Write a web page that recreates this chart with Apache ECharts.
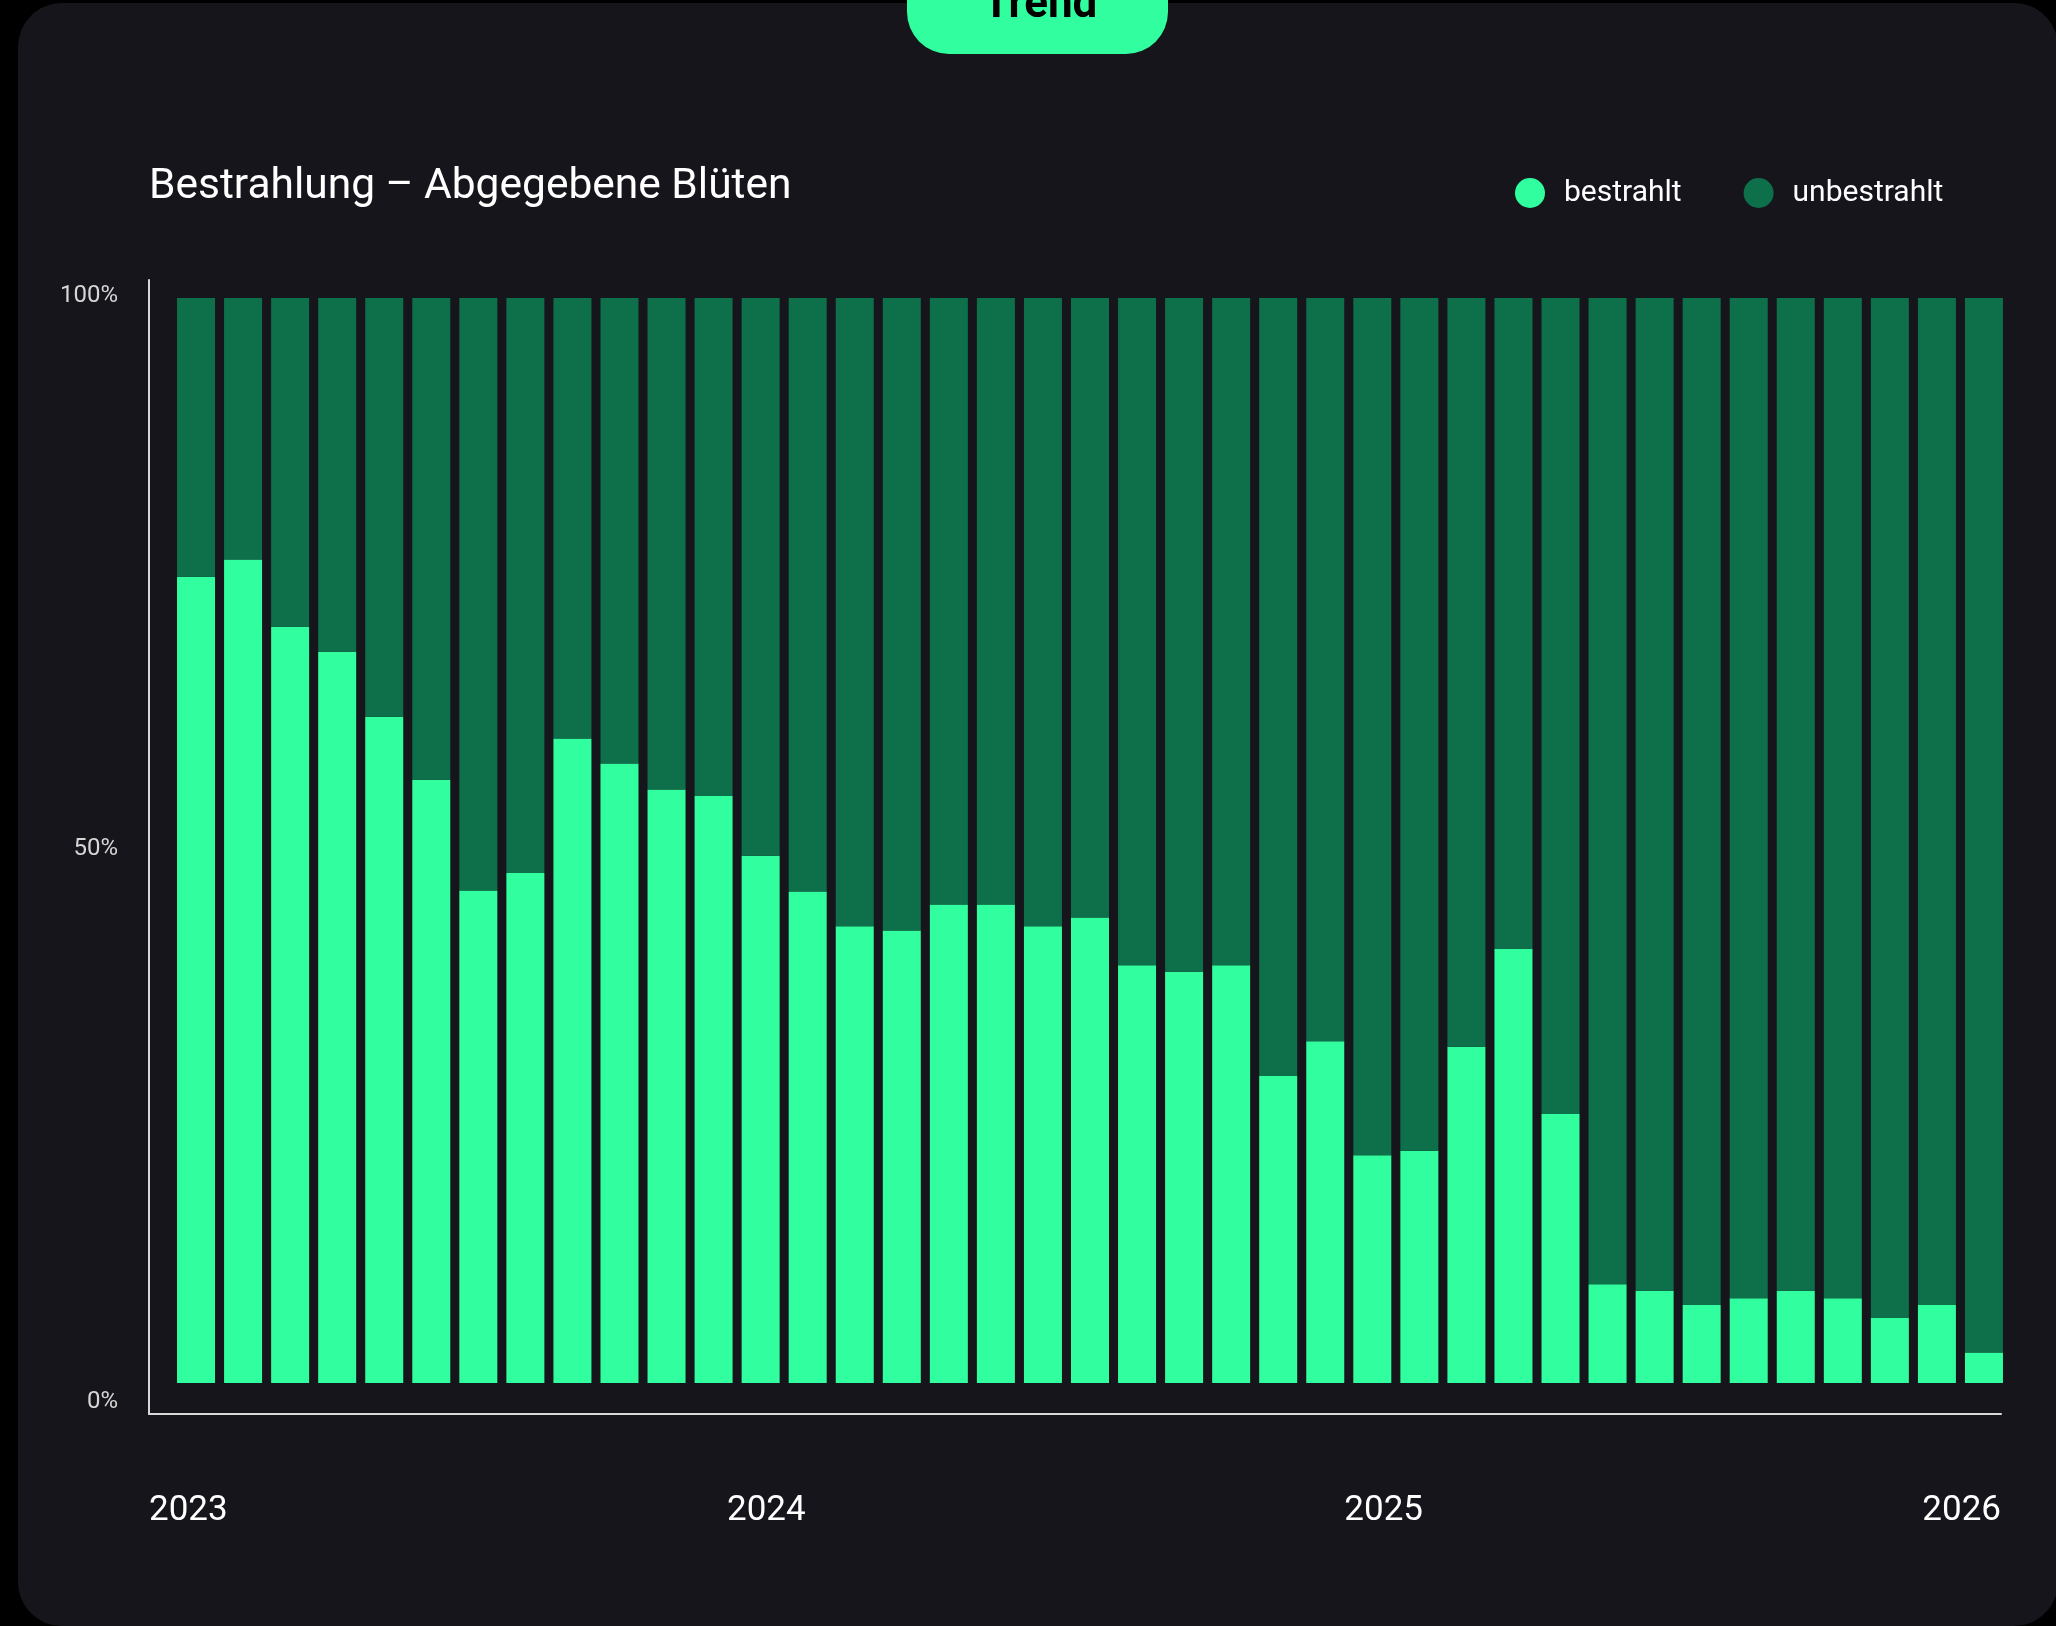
<!DOCTYPE html>
<html>
<head>
<meta charset="utf-8">
<title>Bestrahlung – Abgegebene Blüten</title>
<script src="https://cdn.jsdelivr.net/npm/echarts@6/dist/echarts.min.js"></script>
<style>
  html, body { margin: 0; padding: 0; background: #000; }
  #chart { width: 2056px; height: 1626px; }
</style>
</head>
<body>
<div id="chart"></div>
<script>
// monthly categories Jan 2023 .. Mar 2026
const months = [
  '2023-01', '2023-02', '2023-03', '2023-04', '2023-05', '2023-06',
  '2023-07', '2023-08', '2023-09', '2023-10', '2023-11', '2023-12',
  '2024-01', '2024-02', '2024-03', '2024-04', '2024-05', '2024-06',
  '2024-07', '2024-08', '2024-09', '2024-10', '2024-11', '2024-12',
  '2025-01', '2025-02', '2025-03', '2025-04', '2025-05', '2025-06',
  '2025-07', '2025-08', '2025-09', '2025-10', '2025-11', '2025-12',
  '2026-01', '2026-02', '2026-03'
]

// share in %
const bestrahlt = [
  74.3, 75.9, 69.7, 67.4, 61.4, 55.6, 45.4, 47.0, 59.4, 57.1, 54.7, 54.1,
  48.6, 45.3, 42.1, 41.7, 44.1, 44.1, 42.1, 42.9, 38.5, 37.9, 38.5, 28.3,
  31.5, 21.0, 21.4, 31.0, 40.0, 24.8, 9.1, 8.5, 7.2, 7.8, 8.5, 7.8,
  6.0, 7.2, 2.8
]
const unbestrahlt = [
  25.7, 24.1, 30.3, 32.6, 38.6, 44.4, 54.6, 53.0, 40.6, 42.9, 45.3, 45.9,
  51.4, 54.7, 57.9, 58.3, 55.9, 55.9, 57.9, 57.1, 61.5, 62.1, 61.5, 71.7,
  68.5, 79.0, 78.6, 69.0, 60.0, 75.2, 90.9, 91.5, 92.8, 92.2, 91.5, 92.2,
  94.0, 92.8, 97.2
]

const yearLabels = ['2023', '2024', '2025', '2026']
const percentTicks = [0, 50, 100]

const COLOR_ON = '#31FF9F'
const COLOR_OFF = '#0E704A'
const AXIS = '#d8d8d8'

const chart = echarts.init(document.getElementById('chart'))

const option = {
  backgroundColor: '#000',
  animation: false,
  graphic: [
    {
      type: 'rect',
      z: -10,
      shape: { x: 18, y: 3, width: 2040, height: 1623, r: 44 },
      style: { fill: '#15151B' }
    },
    {
      type: 'rect',
      z: 10,
      shape: { x: 907, y: -70, width: 261, height: 124, r: 42 },
      style: { fill: COLOR_ON }
    },
    {
      type: 'text',
      z: 11,
      x: 1040,
      y: 6,
      style: {
        text: 'Trend',
        fill: '#000',
        font: 'bold 44px Roboto',
        align: 'center',
        verticalAlign: 'middle'
      }
    },
    {
      type: 'text',
      x: 149,
      y: 187,
      style: {
        text: 'Bestrahlung – Abgegebene Blüten',
        fill: '#ffffff',
        font: '42.5px Roboto',
        verticalAlign: 'middle'
      }
    }
  ],
  legend: {
    left: 1510,
    top: 173,
    itemWidth: 30,
    itemHeight: 30,
    itemGap: 62,
    icon: 'circle',
    data: ['bestrahlt', 'unbestrahlt'],
    textStyle: {
      color: '#ffffff',
      fontSize: 30,
      fontFamily: 'Roboto',
      padding: [0, 0, 0, 14]
    }
  },
  grid: [
    // bars
    { left: 172.5, right: 48.5, top: 298, bottom: 243 },
    // axes
    { left: 149, right: 55, top: 280, bottom: 212 }
  ],
  xAxis: [
    {
      type: 'category',
      gridIndex: 0,
      data: months,
      show: false
    },
    {
      type: 'category',
      gridIndex: 1,
      data: yearLabels,
      boundaryGap: false,
      axisLine: { onZero: false, lineStyle: { color: AXIS, width: 2 } },
      axisTick: { show: false },
      axisLabel: {
        interval: 0,
        margin: 80,
        color: '#ffffff',
        fontSize: 35,
        fontFamily: 'Roboto',
        alignMinLabel: 'left',
        alignMaxLabel: 'right'
      }
    }
  ],
  yAxis: [
    {
      type: 'value',
      gridIndex: 0,
      min: 0,
      max: 100,
      show: false
    },
    {
      type: 'value',
      gridIndex: 1,
      min: -1.085,
      max: 101.45,
      axisLine: { show: true, lineStyle: { color: AXIS, width: 2 } },
      axisTick: { show: false },
      splitLine: { show: false },
      axisLabel: {
        customValues: percentTicks,
        formatter: '{value}%',
        margin: 31,
        color: '#d6d6d6',
        fontSize: 24,
        fontFamily: 'Roboto'
      }
    }
  ],
  series: [
    {
      name: 'bestrahlt',
      type: 'bar',
      stack: 'share',
      xAxisIndex: 0,
      yAxisIndex: 0,
      barWidth: 38,
      data: bestrahlt,
      itemStyle: { color: COLOR_ON }
    },
    {
      name: 'unbestrahlt',
      type: 'bar',
      stack: 'share',
      xAxisIndex: 0,
      yAxisIndex: 0,
      barWidth: 38,
      data: unbestrahlt,
      itemStyle: { color: COLOR_OFF }
    }
  ]
}

chart.setOption(option)
</script>
</body>
</html>
